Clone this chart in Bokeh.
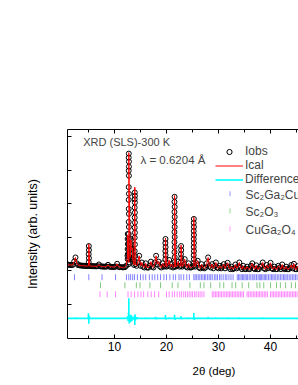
import numpy as np
from bokeh.plotting import figure
from bokeh.models import (Range1d, LinearAxis, FixedTicker, Label, Legend, LegendItem,
                          Title, CustomJSTickFormatter)
from bokeh.embed import file_html
from bokeh.resources import INLINE

# ---------------- data ----------------
# observed background/profile on a 0.25 deg grid starting at 1.0 deg
grid_start = 1.0
grid_step = 0.25
bg_obs = [
    2380, 2360, 2350, 2340, 2360, 2560, 2800, 2450,
    2340, 2330, 2320, 2310, 2300, 2300, 2290, 2290,
    2290, 2290, 2280, 2280, 2280, 2270, 2270, 2280,
    2380, 2270, 2260, 2260, 2250, 2250, 2260, 2360,
    2250, 2240, 2240, 2230, 2230, 2260, 2420, 2240,
    2220, 2220, 2210, 2210, 2220, 2300, 2900, 2500,
    2800, 3300, 2700, 2350, 2400, 2300, 2500, 2900,
    2300, 2500, 2250, 2200, 2450, 2200, 2190, 2300,
    2550, 2250, 2200, 2500, 2900, 2400, 2550, 2250,
    2200, 2450, 2250, 2300, 2250, 2300, 2650, 2250,
    2400, 2200, 2250, 2250, 2300, 2550, 2250, 2300,
    2250, 2350, 2700, 2250, 2200, 2450, 2200, 2200,
    2250, 2300, 2250, 2450, 2600, 2200, 2150, 2400,
    2200, 2150, 2200, 2450, 2800, 2300, 2200, 2400,
    2150, 2300, 2500, 2200, 2150, 2300, 2150, 2250,
    2400, 2150, 2300, 2480, 2200, 2100, 2250, 2100,
    2150, 2380, 2150, 2250, 2500, 2200, 2100, 2300,
    2120, 2100, 2250, 2120, 2100, 2300, 2450, 2150,
    2100, 2330, 2100, 2100, 2250, 2300, 2500, 2150,
    2100, 2350, 2150, 2250, 2480, 2150, 2100, 2250,
    2100, 2100, 2300, 2200, 2100, 2380, 2150, 2100,
    2250, 2100, 2100, 2200, 2350, 2150, 2420, 2100,
    2100, 2280, 2100,
]

# strong Bragg peaks: position, observed top, calculated top, flank points
pk_tth = [5.06, 12.55, 12.75, 13.15, 13.45, 13.9, 19.8, 21.55, 22.8, 25.25]
pk_obs_top = [3480, 4200, 9000, 3900, 3300, 6680, 3900, 6420, 3480, 5100]
pk_calc_top = [3600, 4150, 9060, 3850, 3350, 7000, 3960, 6500, 3540, 5200]
pk_flank_left = [
    [2520, 3000],
    [2700, 3300, 3900],
    [2400, 3000, 3600, 4200, 4920, 5700, 6240, 7000, 7980, 8760],
    [2700, 3300],
    [3000],
    [2580, 3180, 3980, 4580, 5180, 5780, 6280],
    [2700, 3180, 3660],
    [2520, 3120, 3720, 4320, 4920, 5520, 6120],
    [2520, 3000],
    [2460, 2940, 3420, 3900, 4380, 4860],
]
pk_flank_right = [
    [3240, 2760],
    [3600, 3000],
    [8520, 8220, 7680, 6600, 5400, 4620, 3900, 3300, 2700],
    [3600, 3000],
    [2700],
    [6480, 6080, 5480, 4880, 4280, 3580, 2880],
    [3420, 2940],
    [5820, 5220, 4620, 4020, 3420, 2820],
    [3240, 2760],
    [4620, 4140, 3660, 3180, 2700],
]

# difference curve (Iobs - Ical) spikes
diff_tth = [2.5, 4.98, 5.06, 5.14, 12.4, 12.5, 12.6, 12.7, 12.75, 12.82, 12.88, 12.95,
            13.05, 13.15, 13.25, 13.35, 13.5, 13.7, 13.85, 13.9, 13.96, 14.05, 14.3,
            16.0, 17.9, 18.05, 19.8, 19.9, 20.5, 21.55, 21.65, 22.8, 22.9, 24.2,
            25.25, 25.35, 26.0, 28.0, 29.5, 31.7, 34.0, 36.5, 38.5, 40.0, 42.3]
diff_val = [60, 300, -320, 150, 60, 120, -150, 300, 1200, -300, 200, -250,
            220, -200, 180, -150, 100, -80, 150, -400, 250, -120, 80,
            60, 100, -60, 200, -80, 60, 220, -100, 120, -60, 60,
            320, -100, 60, 100, 60, 60, 60, 50, 60, 50, 40]
diff_offset = -840

# reflection positions of the three phases
refl_a = [2.3, 5.06, 7.6, 10.2, 12.3, 12.75, 13.1, 13.5, 13.85, 14.4, 15.0, 15.5, 16.0,
          16.7, 17.25, 17.75, 18.3, 18.85, 19.5, 20.0, 20.65, 21.3, 21.75, 22.4, 22.8,
          23.3, 23.9, 24.4, 25.25, 25.5, 25.8, 26.1, 26.4, 26.7, 27.0, 27.3, 27.55,
          27.9, 28.2, 28.5, 28.8, 29.2, 29.5, 29.8, 30.2, 30.5, 30.9, 31.3, 31.6, 32.0,
          32.4, 32.8, 33.6, 33.85, 34.1, 34.35, 34.6, 34.85, 35.1, 35.35, 35.6, 35.9,
          36.2, 36.5, 36.8, 37.0, 37.3, 37.6, 37.85, 38.1, 38.3, 38.55, 38.8, 39.05,
          39.3, 39.6, 39.9, 40.2, 40.45, 40.7, 41.0, 41.3, 41.6, 41.9, 42.2, 42.5,
          42.75, 43.0, 43.3, 43.6, 43.9, 44.2, 44.5, 44.8, 45.1, 45.4]
refl_b = [7.3, 12.0, 14.2, 14.9, 16.8, 18.85, 21.1, 22.2, 24.5, 26.5, 27.2, 28.5, 30.25,
          31.0, 32.6, 33.3, 34.55, 35.8, 37.4, 37.95, 38.7, 40.0, 41.15, 41.9, 42.9,
          44.0, 44.8]
refl_c = [7.2, 8.6, 10.2, 12.6, 13.2, 13.85, 14.5, 15.1, 15.6, 16.4, 17.05, 17.7, 18.5,
          20.0, 20.5, 21.1, 21.55, 22.05, 22.55, 22.9, 23.3, 23.65, 24.0, 24.35, 24.7,
          25.0, 25.4, 25.7, 26.1, 26.45, 26.8, 27.2, 28.8, 29.1, 29.4, 29.7, 30.0, 30.3,
          30.6, 30.9, 31.2, 31.5, 31.8, 32.1, 32.4, 32.7, 33.0, 33.3, 33.6, 33.9, 34.2,
          34.5, 34.8, 35.5, 35.8, 36.1, 36.4, 36.7, 37.0, 37.3, 37.6, 37.9, 38.2, 38.5,
          38.8, 39.1, 39.4, 40.0, 40.3, 40.6, 40.9, 41.2, 41.5, 41.8, 42.1, 42.4, 42.7,
          43.0, 43.3, 43.6, 43.9, 44.2, 44.5, 44.8, 45.1, 45.4]
refl_rows = [1620, 1140, 600]

phase_names = ["Sc\u2082Ga\u2082CuO\u2087", "Sc\u2082O\u2083", "CuGa\u2082O\u2084"]
phase_colors = ["#6b6bff", "#6cc06c", "#ff70ff"]
phase_key_colors = ["#9a9aff", "#8fd68f", "#ff9cff"]

x_ticks = [10, 20, 30, 40]
x_minor = [5, 15, 25, 35, 45]
y_ticks = [0, 2000, 4000, 6000, 8000, 10000]

# ---------------- assemble series ----------------
bg_tth = np.round(grid_start + grid_step * np.arange(len(bg_obs)), 3)

obs_x = list(bg_tth)
obs_y = list(bg_obs)
for t, top, fl, fr in zip(pk_tth, pk_obs_top, pk_flank_left, pk_flank_right):
    obs_x += [t - 0.02] * len(fl) + [t] + [t + 0.02] * len(fr)
    obs_y += list(fl) + [top] + list(fr)

calc_pts = sorted(list(zip(bg_tth, bg_obs)) + list(zip(pk_tth, pk_calc_top)), key=lambda a: a[0])
calc_x = [a[0] for a in calc_pts]
calc_y = [a[1] for a in calc_pts]

dpts = [(float(bg_tth[0]), 0.0), (float(bg_tth[-1]), 0.0)]
for t, v in zip(diff_tth, diff_val):
    dpts += [(t - 0.015, 0.0), (t, v), (t + 0.015, 0.0)]
dpts.sort(key=lambda a: a[0])
dx = [a[0] for a in dpts]
dy = [a[1] + diff_offset for a in dpts]

# ---------------- figure ----------------
FONT = "Liberation Sans"
blank = CustomJSTickFormatter(code="return ''")
XR = (0.96, 45.38)
YR = (-2040, 10440)
FRAME_W, FRAME_H = 231, 208

p = figure(width=298, height=385, output_backend="svg", toolbar_location=None,
           x_range=Range1d(*XR), y_range=Range1d(*YR),
           min_border_left=67, min_border_right=0, min_border_top=129, min_border_bottom=0)
p.outline_line_color = None
p.xgrid.visible = False
p.ygrid.visible = False
p.background_fill_color = "white"
p.border_fill_color = "white"

xa = p.xaxis[0]
xa.ticker = FixedTicker(ticks=x_ticks, minor_ticks=x_minor)
xa.major_tick_in = 4
xa.major_tick_out = 0
xa.minor_tick_in = 3
xa.minor_tick_out = 0
xa.major_label_text_font = FONT
xa.major_label_text_font_size = "12px"
xa.major_label_text_color = "black"
xa.major_label_standoff = 3
xa.axis_line_color = "black"

ya = p.yaxis[0]
ya.ticker = FixedTicker(ticks=y_ticks, minor_ticks=[])
ya.formatter = blank
ya.major_tick_in = 4
ya.major_tick_out = 0
ya.minor_tick_in = 0
ya.minor_tick_out = 0
ya.major_label_standoff = 0
ya.axis_label = "Intensity (arb. units)"
ya.axis_label_text_font = FONT
ya.axis_label_text_font_size = "12.5px"
ya.axis_label_text_font_style = "normal"
ya.axis_label_text_color = "black"
ya.axis_label_standoff = 28
ya.axis_line_color = "black"

top = LinearAxis(ticker=FixedTicker(ticks=x_ticks, minor_ticks=x_minor), formatter=blank,
                 major_tick_in=4, major_tick_out=0, minor_tick_in=3, minor_tick_out=0,
                 major_label_standoff=0, axis_line_color="black")
p.add_layout(top, "above")

xtitle = Title(text="2\u03b8 (deg)", align="left", offset=125, standoff=18,
               vertical_align="bottom",
               text_font=FONT, text_font_size="11.5px", text_font_style="normal",
               text_color="black")
p.add_layout(xtitle, "below")

r_obs = p.scatter(obs_x, obs_y, marker="circle", size=5, fill_color=None,
                  line_color="black", line_width=1.0)
r_calc = p.line(calc_x, calc_y, line_color="#ff0000", line_width=1)
r_diff = p.line(dx, dy, line_color="#00ffff", line_width=1.6)

for refl, row, col in zip([refl_a, refl_b, refl_c], refl_rows, phase_colors):
    p.scatter(refl, [row] * len(refl), marker="dash", angle=np.pi / 2, size=6,
              line_color=col, line_width=1, line_alpha=0.85)

leg1 = Legend(items=[LegendItem(label="Iobs", renderers=[r_obs]),
                     LegendItem(label="Ical", renderers=[r_calc]),
                     LegendItem(label="Difference", renderers=[r_diff])],
              location=(148, 152))
leg1.padding = 0
leg1.margin = 0
leg1.spacing = 0
leg1.glyph_width = 28
leg1.glyph_height = 13
leg1.label_height = 13
leg1.label_standoff = 2
leg1.label_text_font = FONT
leg1.label_text_font_size = "12px"
leg1.label_text_baseline = "middle"
leg1.border_line_color = None
leg1.background_fill_alpha = 0
p.add_layout(leg1, "center")


# phase entries of the legend: short vertical key tick + name (positions in frame pixels)
def sx2data(px):
    return XR[0] + px * (XR[1] - XR[0]) / FRAME_W


def sy2data(py):
    return YR[0] + py * (YR[1] - YR[0]) / FRAME_H


phase_key_y = [144, 127, 109]
for name, col, ky in zip(phase_names, phase_key_colors, phase_key_y):
    p.segment(x0=[sx2data(162.5)], y0=[sy2data(ky - 2.5)], x1=[sx2data(162.5)], y1=[sy2data(ky + 2.5)],
              line_color=col, line_width=1)
    p.add_layout(Label(x=178, y=ky, x_units="screen", y_units="screen", text=name,
                       text_font=FONT, text_font_size="12px", text_baseline="middle"))

p.add_layout(Label(x=15.7, y=197, x_units="screen", y_units="screen", text="XRD (SLS)-300 K",
                   text_font=FONT, text_font_size="11px", text_baseline="middle"))
p.add_layout(Label(x=73, y=179, x_units="screen", y_units="screen", text="\u03bb = 0.6204 \u00c5",
                   text_font=FONT, text_font_size="11.5px", text_baseline="middle"))

open("out.html", "w").write(file_html(p, INLINE))
